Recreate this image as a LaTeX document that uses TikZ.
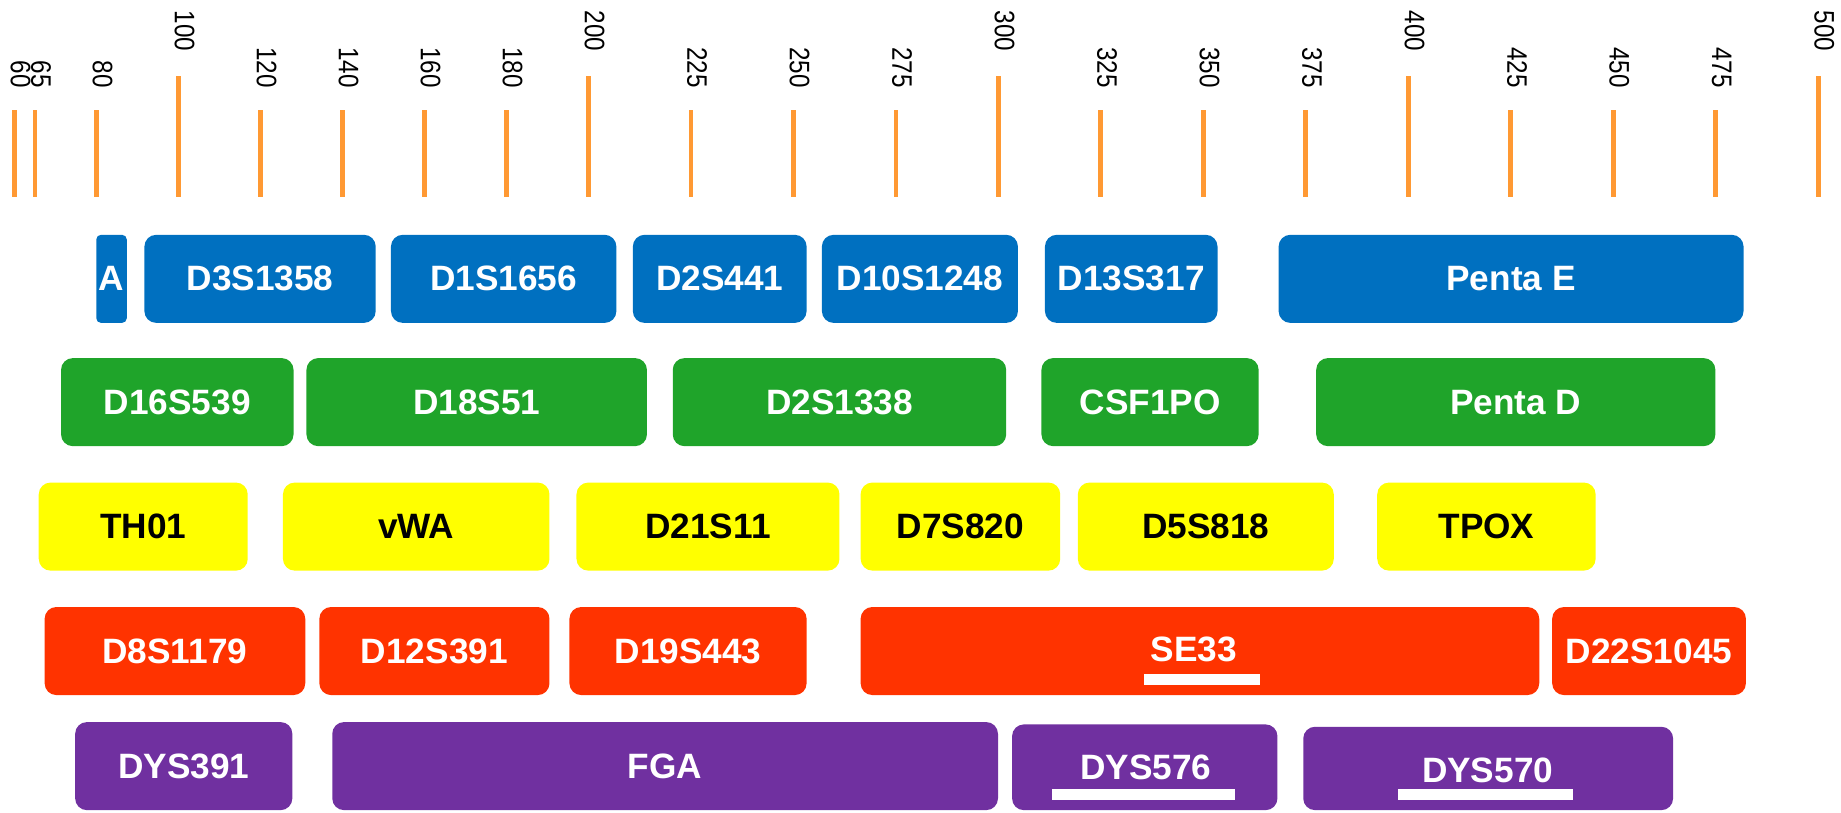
\documentclass[tikz,border=0pt]{standalone}
\usepackage{fontspec}
\setmainfont{Liberation Sans}
\newfontfamily\sizefont[FakeStretch=0.86]{Liberation Sans}
\definecolor{strblue}{HTML}{0070C0}
\definecolor{strgreen}{RGB}{31,164,42}
\definecolor{stryellow}{HTML}{FFFF00}
\definecolor{strred}{HTML}{FF3300}
\definecolor{strpurple}{HTML}{7030A0}
\definecolor{strorange}{HTML}{FF9933}
\tikzset{
  sizetick/.style={draw=strorange, line width=3pt},
  sizelabel/.style={inner sep=0pt, rotate=-90, anchor=base east, font=\sizefont\fontsize{18}{20}\selectfont},
  locus/.style={rounded corners=7.5pt},
  locuslabel/.style={inner sep=0.75pt, text=white, font=\fontsize{22.5}{25}\selectfont\bfseries},
}

\begin{document}
\begin{tikzpicture}[x=0.75pt,y=0.75pt,yscale=-1,xscale=1]
\useasboundingbox (0,0) rectangle (1568,692);
% size scale
\foreach \v in {60,65,80,120,140,160,180,225,250,275,325,350,375,425,450,475} {
  \draw [sizetick] ({152+(\v-100)*3.4915},94) -- ({152+(\v-100)*3.4915},168);
  \node [sizelabel] (s\v) at ({149+(\v-100)*3.4915},75) {\v};
}
\foreach \v in {100,200,300,400,500} {
  \draw [sizetick] ({152+(\v-100)*3.4915},65) -- ({152+(\v-100)*3.4915},168);
  \node [sizelabel] (s\v) at ({149+(\v-100)*3.4915},44) {\v};
}
% blue
\fill [locus, strblue, rounded corners=3pt] (82,200) rectangle (108,275);
\fill [locus, strblue] (123,200) rectangle (320,275);
\fill [locus, strblue] (333,200) rectangle (525,275);
\fill [locus, strblue] (539,200) rectangle (687,275);
\fill [locus, strblue] (700,200) rectangle (867,275);
\fill [locus, strblue] (890,200) rectangle (1037,275);
\fill [locus, strblue] (1089,200) rectangle (1485,275);
\node [locuslabel] (amel) at (95,237.5) {A};
\node [locuslabel] (d3s1358) at (221.5,237.5) {D3S1358};
\node [locuslabel] (d1s1656) at (429,237.5) {D1S1656};
\node [locuslabel] (d2s441) at (613,237.5) {D2S441};
\node [locuslabel] (d10s1248) at (783.5,237.5) {D10S1248};
\node [locuslabel] (d13s317) at (963.5,237.5) {D13S317};
\node [locuslabel] (pentae) at (1287,237.5) {Penta E};
% green
\fill [locus, strgreen] (52,305) rectangle (250,380);
\fill [locus, strgreen] (261,305) rectangle (551,380);
\fill [locus, strgreen] (573,305) rectangle (857,380);
\fill [locus, strgreen] (887,305) rectangle (1072,380);
\fill [locus, strgreen] (1121,305) rectangle (1461,380);
\node [locuslabel] (d16s539) at (151,342.5) {D16S539};
\node [locuslabel] (d18s51) at (406,342.5) {D18S51};
\node [locuslabel] (d2s1338) at (715,342.5) {D2S1338};
\node [locuslabel] (csf1po) at (979.5,342.5) {CSF1PO};
\node [locuslabel] (pentad) at (1291,342.5) {Penta D};
% yellow
\fill [locus, stryellow] (33,411) rectangle (211,486);
\fill [locus, stryellow] (241,411) rectangle (468,486);
\fill [locus, stryellow] (491,411) rectangle (715,486);
\fill [locus, stryellow] (733,411) rectangle (903,486);
\fill [locus, stryellow] (918,411) rectangle (1136,486);
\fill [locus, stryellow] (1173,411) rectangle (1359,486);
\node [locuslabel, text=black] (th01) at (122,448.5) {TH01};
\node [locuslabel, text=black] (vwa) at (354.5,448.5) {vWA};
\node [locuslabel, text=black] (d21s11) at (603,448.5) {D21S11};
\node [locuslabel, text=black] (d7s820) at (818,448.5) {D7S820};
\node [locuslabel, text=black] (d5s818) at (1027,448.5) {D5S818};
\node [locuslabel, text=black] (tpox) at (1266,448.5) {TPOX};
% red
\fill [locus, strred] (38,517) rectangle (260,592);
\fill [locus, strred] (272,517) rectangle (468,592);
\fill [locus, strred] (485,517) rectangle (687,592);
\fill [locus, strred] (733,517) rectangle (1311,592);
\fill [locus, strred] (1322,517) rectangle (1487,592);
\node [locuslabel] (d8s1179) at (149,554.5) {D8S1179};
\node [locuslabel] (d12s391) at (370,554.5) {D12S391};
\node [locuslabel] (d19s443) at (586,554.5) {D19S443};
\node [locuslabel] (se33) at (1017,553) {SE33};
\node [locuslabel] (d22s1045) at (1404.5,554.5) {D22S1045};
\fill [white] (974,574) rectangle (1073,583);
% purple
\fill [locus, strpurple] (64,615) rectangle (249,690);
\fill [locus, strpurple] (283,615) rectangle (850,690);
\fill [locus, strpurple] (862,617) rectangle (1088,690);
\fill [locus, strpurple] (1110,619) rectangle (1425,690);
\node [locuslabel] (dys391) at (156.5,652.5) {DYS391};
\node [locuslabel] (fga) at (566.5,652.5) {FGA};
\node [locuslabel] (dys576) at (976,654) {DYS576};
\node [locuslabel] (dys570) at (1267,656) {DYS570};
\fill [white] (896,672) rectangle (1052,681);
\fill [white] (1191,672) rectangle (1340,681);
\end{tikzpicture}
\end{document}
